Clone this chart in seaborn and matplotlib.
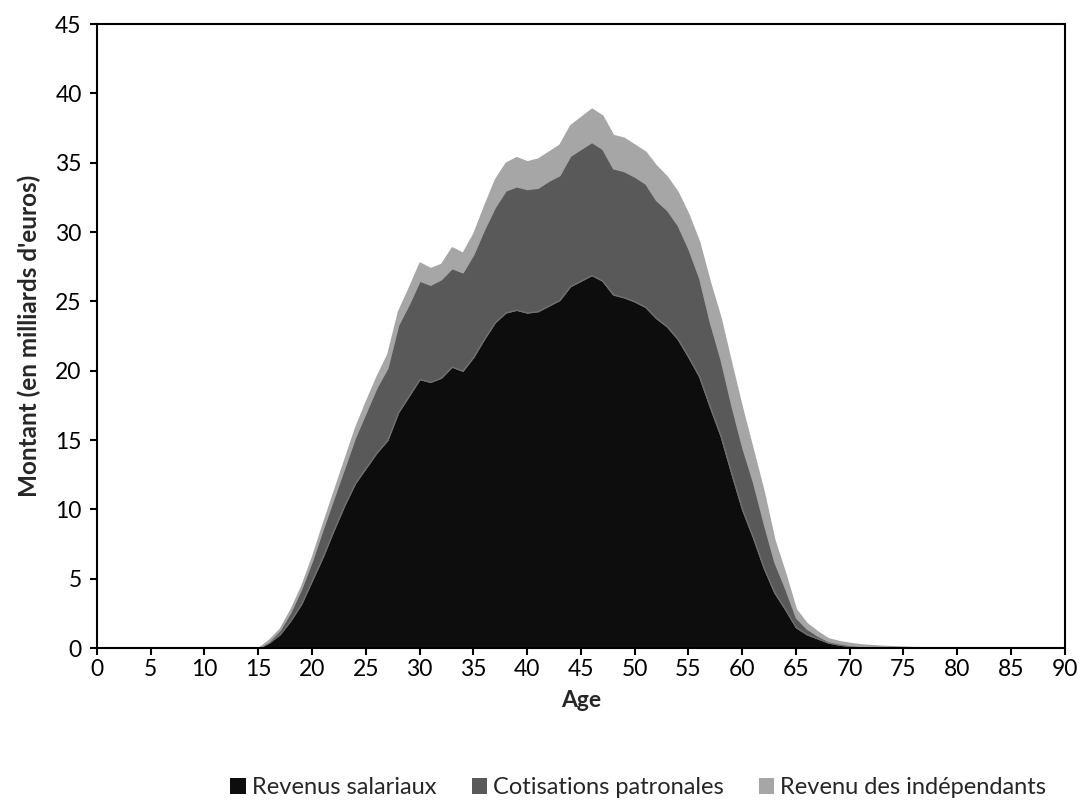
import matplotlib
matplotlib.use("Agg")
import matplotlib.pyplot as plt
from matplotlib.patches import Patch
import seaborn as sns

# Ages 0 to 90
ages = list(range(0, 91))

# Montants (milliards d'euros) par age
revenus_salariaux = [
    0, 0, 0, 0, 0, 0, 0, 0, 0, 0,
    0, 0, 0, 0, 0, 0.0, 0.4, 1.0, 2.0, 3.2,
    4.9, 6.6, 8.5, 10.3, 11.9, 13.0, 14.1, 15.0, 17.0, 18.2,
    19.4, 19.2, 19.5, 20.3, 20.0, 21.0, 22.3, 23.5, 24.2, 24.4,
    24.2, 24.3, 24.7, 25.1, 26.1, 26.5, 26.9, 26.5, 25.5, 25.3,
    25.0, 24.6, 23.8, 23.2, 22.3, 21.0, 19.6, 17.4, 15.3, 12.6,
    10.0, 8.0, 5.8, 4.0, 2.8, 1.5, 1.0, 0.7, 0.4, 0.25,
    0.15, 0.1, 0.07, 0.05, 0.04, 0.03, 0.02, 0.02, 0.01, 0.01,
    0.01, 0, 0, 0, 0, 0, 0, 0, 0, 0,
    0,
]
cotisations_patronales = [
    0, 0, 0, 0, 0, 0, 0, 0, 0, 0,
    0, 0, 0, 0, 0, 0.0, 0.1, 0.3, 0.6, 1.1,
    1.4, 2.0, 2.3, 2.7, 3.3, 4.0, 4.7, 5.2, 6.3, 6.6,
    7.1, 7.0, 7.1, 7.1, 7.1, 7.4, 7.9, 8.3, 8.8, 8.9,
    8.9, 8.9, 9.0, 9.0, 9.4, 9.5, 9.6, 9.5, 9.1, 9.1,
    9.0, 8.9, 8.5, 8.4, 8.2, 7.8, 7.1, 6.1, 5.5, 4.9,
    4.5, 4.0, 3.2, 2.2, 1.5, 0.7, 0.4, 0.2, 0.1, 0.1,
    0.07, 0.05, 0.04, 0.03, 0.02, 0.02, 0.01, 0.01, 0, 0,
    0, 0, 0, 0, 0, 0, 0, 0, 0, 0,
    0,
]
revenu_independants = [
    0, 0, 0, 0, 0, 0, 0, 0, 0, 0,
    0, 0, 0, 0, 0, 0.0, 0.1, 0.1, 0.2, 0.2,
    0.3, 0.4, 0.5, 0.6, 0.7, 0.8, 0.8, 1.0, 1.0, 1.2,
    1.3, 1.2, 1.1, 1.5, 1.4, 1.5, 1.7, 2.0, 2.0, 2.1,
    2.0, 2.1, 2.1, 2.2, 2.2, 2.3, 2.4, 2.4, 2.4, 2.4,
    2.3, 2.3, 2.5, 2.4, 2.4, 2.5, 2.6, 2.9, 3.0, 3.0,
    2.8, 2.3, 2.3, 1.6, 1.1, 0.6, 0.4, 0.3, 0.2, 0.15,
    0.15, 0.12, 0.1, 0.08, 0.07, 0.05, 0.04, 0.03, 0.02, 0.02,
    0.01, 0.01, 0, 0, 0, 0, 0, 0, 0, 0,
    0,
]

labels = ["Revenus salariaux", "Cotisations patronales", "Revenu des indépendants"]
couleurs = ["#0d0d0d", "#595959", "#a6a6a6"]

sns.set_theme(style="ticks")
plt.rcParams['font.family'] = ['Lato', 'DejaVu Sans']

fig = plt.figure(figsize=(10.82, 8.02), dpi=100)
ax = fig.add_axes([0.0896, 0.192, 0.8945, 0.778])

polys = ax.stackplot(ages, revenus_salariaux, cotisations_patronales, revenu_independants,
                     colors=couleurs, linewidth=1.0)
polys[0].set_edgecolor("#8c8c8c")
polys[1].set_edgecolor("#6e6e6e")
polys[2].set_edgecolor("#a6a6a6")

ax.set_xlim(0, 90)
ax.set_ylim(0, 45)
ax.set_xticks(range(0, 91, 5))
ax.set_yticks(range(0, 46, 5))
ax.tick_params(axis="both", direction="out", length=5, width=1.5, color="black",
               labelsize=16.5, labelcolor="black", pad=6)
ax.tick_params(axis="x", pad=3)
for sp in ax.spines.values():
    sp.set_visible(True)
    sp.set_color("black")
    sp.set_linewidth(1.5)

ax.set_xlabel("Age", fontsize=16.5, fontweight="bold", labelpad=7)
ax.set_ylabel("Montant (en milliards d'euros)", fontsize=17.5, fontweight="bold", labelpad=10)

handles = [Patch(facecolor=c, edgecolor="none") for c in couleurs]
fig.legend(handles, labels, loc="lower center", bbox_to_anchor=(0.59, -0.022), ncol=3,
           frameon=False, fontsize=17, handlelength=0.65, handleheight=0.65,
           handletextpad=0.25, columnspacing=1.5)

fig.savefig("out.png", dpi=100)
